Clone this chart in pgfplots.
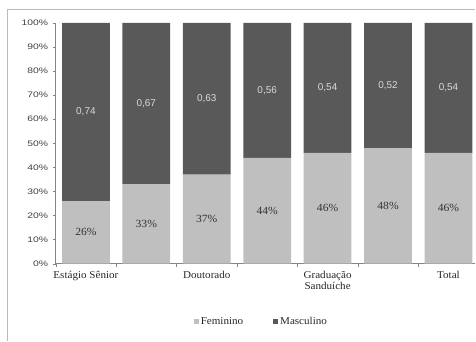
\documentclass[border=0pt]{standalone}
\usepackage{pgfplots}
\pgfplotsset{compat=1.18}
\usepackage{pgfplotstable}
\usepackage{fontspec}
\setmainfont{Liberation Serif}[FakeStretch=1.06]
\newfontfamily\sanswide{Liberation Sans}[FakeStretch=1.3]
\newfontfamily\sansreg{Liberation Sans}

\definecolor{fem}{HTML}{BFBFBF}
\definecolor{masc}{HTML}{595959}
\definecolor{axisgray}{HTML}{858585}

% Share of women (f) and men (m) in each programme, in percent
\pgfplotstableread{
x f m
0 26 74
1 33 67
2 37 63
3 44 56
4 46 54
5 48 52
6 46 54
}\datatable

\pgfplotsset{
  common/.style={
    at={(0,0)}, anchor=south west, scale only axis,
    width=420.25bp, height=241bp,
    xmin=-0.5, xmax=6.446, ymin=0, ymax=100,
  },
}

\begin{document}
\begin{tikzpicture}
% page area
\path (-55.75bp,-77bp) rectangle (420.25bp,264bp);
% outer frame
\draw[color=gray!55, line width=1.2bp] (-48.25bp,-77bp) -- (-48.25bp,254.5bp) -- (420.25bp,254.5bp);

\begin{axis}[
  common,
  ybar stacked, bar width=0.79,
  axis lines*=left,
  axis line style={axisgray, line width=0.9bp},
  xtick={0,2,4,6},
  xticklabels={Estágio Sênior, Doutorado, {Graduação\\Sanduíche}, Total},
  xticklabel style={align=center, font=\fontsize{10.5}{11.5}\selectfont, text=black!85, yshift=-1bp},
  major x tick style={draw=none},
  minor xtick={-0.5,0.5,...,6.5},
  minor x tick style={axisgray},
  ytick={0,10,...,100},
  yticklabel={\pgfmathprintnumber{\tick}\%},
  yticklabel style={font=\sanswide\fontsize{8}{9}\selectfont, text=black!75, xshift=-1bp},
  y tick style={axisgray},
  /pgf/number format/assume math mode=true,
  tick align=outside, major tick length=3bp, minor tick length=3bp,
  legend columns=2,
  legend style={at={(0.49,-0.241)}, anchor=center, draw=none, fill=none,
    font=\fontsize{10.5}{11}\selectfont, text=black!85,
    /tikz/every even column/.append style={column sep=28bp}},
  legend image code/.code={\fill[#1] (0bp,-2.5bp) rectangle (5bp,2.5bp);},
]
\addplot[fill=fem, draw=none] table[x=x, y=f] {\datatable};
\addlegendentry{Feminino}
\addplot[fill=masc, draw=none] table[x=x, y=m] {\datatable};
\addlegendentry{Masculino}
\end{axis}

% value labels centred in each segment
\begin{axis}[common, hide axis,
  /pgf/number format/.cd, use comma, fixed, fixed zerofill, precision=2,
  assume math mode=true]
\addplot[draw=none, mark=none, point meta=explicit,
  nodes near coords={\pgfmathprintnumber[precision=0]{\pgfplotspointmeta}\%},
  every node near coord/.append style={anchor=center,
    font=\fontsize{11}{12}\selectfont, text=black!80}]
  table[x=x, y expr=\thisrow{f}/2, meta=f] {\datatable};
\addplot[draw=none, mark=none, point meta=explicit,
  nodes near coords={\pgfmathprintnumber{\pgfplotspointmeta}},
  every node near coord/.append style={anchor=center,
    font=\sansreg\fontsize{10}{11}\selectfont, text=white!85!black}]
  table[x=x, y expr=\thisrow{f}+\thisrow{m}/2, meta expr=\thisrow{m}/100] {\datatable};
\end{axis}
\end{tikzpicture}
\end{document}
